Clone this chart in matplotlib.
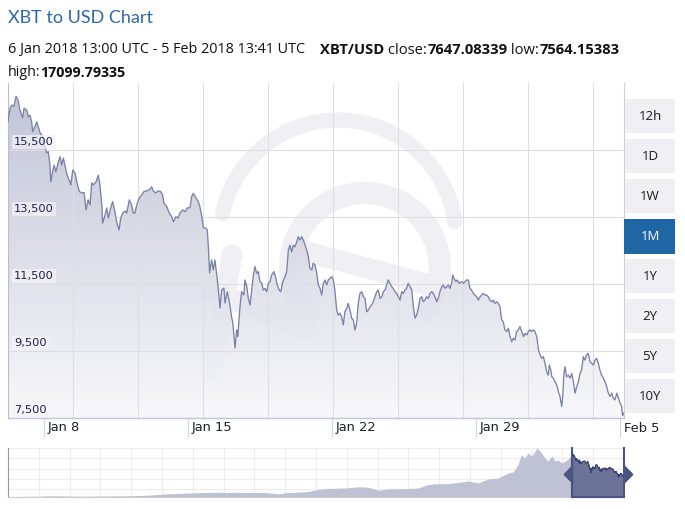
import numpy as np
import matplotlib
matplotlib.use("Agg")
import matplotlib.pyplot as plt
from matplotlib.transforms import Affine2D, ScaledTranslation, blended_transform_factory
from matplotlib.patches import Rectangle, Arc
from matplotlib.lines import Line2D
from matplotlib.path import Path

# ---------------- data ----------------
title = "XBT to USD Chart"
range_text = "6 Jan 2018 13:00 UTC - 5 Feb 2018 13:41 UTC"
pair = "XBT/USD"
close_val = "7647.08339"
low_val = "7564.15383"
high_val = "17099.79335"

# days since 6 Jan 2018 13:00 UTC
days = [
    0.00, 0.10, 0.19, 0.29, 0.39, 0.49, 0.58, 0.71, 0.78, 0.91, 0.99, 1.07, 1.15, 1.20, 1.31, 1.40,
    1.47, 1.56, 1.64, 1.72, 1.80, 1.88, 1.96, 2.04, 2.08, 2.17, 2.24, 2.33, 2.45, 2.53, 2.61, 2.69,
    2.77, 2.85, 2.93, 3.01, 3.05, 3.15, 3.26, 3.34, 3.47, 3.58, 3.70, 3.79, 3.90, 3.99, 4.07, 4.15,
    4.28, 4.39, 4.47, 4.56, 4.60, 4.72, 4.80, 4.88, 4.99, 5.09, 5.20, 5.28, 5.40, 5.48, 5.58, 5.69,
    5.77, 5.90, 6.01, 6.09, 6.17, 6.26, 6.38, 6.50, 6.61, 6.74, 6.87, 6.99, 7.06, 7.18, 7.31, 7.42,
    7.52, 7.58, 7.72, 7.84, 7.96, 8.04, 8.17, 8.28, 8.36, 8.49, 8.61, 8.72, 8.85, 8.93, 9.01, 9.14,
    9.25, 9.33, 9.42, 9.50, 9.63, 9.69, 9.75, 9.80, 9.90, 9.98, 10.06, 10.18, 10.31, 10.39, 10.50,
    10.55, 10.66, 10.76, 10.88, 10.93, 11.04, 11.12, 11.17, 11.28, 11.36, 11.47, 11.52, 11.61, 11.68,
    11.77, 11.85, 11.93, 12.01, 12.09, 12.17, 12.25, 12.34, 12.41, 12.50, 12.58, 12.66, 12.74, 12.82,
    12.93, 13.03, 13.09, 13.19, 13.26, 13.36, 13.47, 13.55, 13.63, 13.71, 13.79, 13.87, 13.95, 14.04,
    14.11, 14.20, 14.28, 14.36, 14.44, 14.52, 14.60, 14.68, 14.77, 14.84, 14.93, 15.01, 15.09, 15.17,
    15.25, 15.33, 15.41, 15.50, 15.57, 15.66, 15.74, 15.82, 15.90, 15.98, 16.06, 16.14, 16.22, 16.30,
    16.38, 16.47, 16.54, 16.63, 16.71, 16.79, 16.87, 16.95, 17.03, 17.11, 17.20, 17.28, 17.36, 17.44,
    17.52, 17.60, 17.68, 17.76, 17.84, 17.93, 18.00, 18.09, 18.17, 18.25, 18.33, 18.41, 18.49, 18.57,
    18.66, 18.73, 18.82, 18.90, 18.98, 19.06, 19.14, 19.22, 19.30, 19.38, 19.46, 19.55, 19.63, 19.71,
    19.79, 19.87, 19.95, 20.03, 20.11, 20.19, 20.27, 20.36, 20.44, 20.52, 20.60, 20.68, 20.76, 20.84,
    20.92, 21.00, 21.09, 21.16, 21.25, 21.33, 21.41, 21.49, 21.57, 21.62, 21.68, 21.78, 21.85, 21.94,
    22.06, 22.14, 22.22, 22.30, 22.38, 22.46, 22.54, 22.62, 22.70, 22.79, 22.87, 22.95, 23.03, 23.11,
    23.19, 23.27, 23.35, 23.43, 23.52, 23.60, 23.68, 23.76, 23.84, 23.92, 24.00, 24.08, 24.16, 24.25,
    24.33, 24.41, 24.49, 24.57, 24.65, 24.73, 24.81, 24.89, 24.98, 25.06, 25.14, 25.22, 25.30, 25.38,
    25.46, 25.54, 25.62, 25.71, 25.79, 25.87, 25.95, 26.03, 26.11, 26.19, 26.27, 26.32, 26.39, 26.44,
    26.51, 26.60, 26.68, 26.76, 26.84, 26.92, 26.97, 27.03, 27.08, 27.16, 27.24, 27.33, 27.41, 27.49,
    27.57, 27.65, 27.73, 27.81, 27.89, 27.97, 28.05, 28.13, 28.21, 28.30, 28.38, 28.46, 28.54, 28.62,
    28.70, 28.78, 28.86, 28.95, 29.03, 29.11, 29.19, 29.27, 29.35, 29.43, 29.51, 29.60, 29.68, 29.76,
    29.84, 29.88, 29.92,
]
price = [
    16350, 16750, 16840, 16810, 17100, 16990, 16690, 16460, 16750, 16690, 16490, 16540, 16340, 16050, 16200, 16340,
    16200, 16010, 15950, 15800, 15560, 15410, 15450, 15050, 14550, 14850, 15050, 14850, 15150, 15300, 15050, 15260,
    15050, 14810, 14660, 14550, 14460, 14900, 14810, 14550, 14260, 14220, 14230, 13710, 14010, 13860, 14520, 14460,
    14550, 14750, 14460, 13860, 13320, 13560, 13770, 13470, 13770, 13960, 13660, 13360, 13110, 13470, 13620, 13680,
    13620, 14010, 13860, 13620, 13620, 13860, 14070, 14160, 14260, 14280, 14310, 14400, 14280, 14220, 14280, 14260,
    14160, 13920, 13810, 13620, 13510, 13360, 13510, 13470, 13620, 13710, 13660, 13770, 13780, 14110, 14210, 14070,
    13960, 13810, 13510, 13170, 13170, 13110, 12520, 11830, 12220, 11920, 12220, 11620, 10780, 11320, 11380,
    10930, 11270, 10970, 10490, 10340, 9590, 10130, 9930, 10820, 11270, 11170, 11620, 11420, 11080,
    10870, 11320, 11770, 12020, 11820, 11870, 11570, 11520, 11320, 11370, 11270, 11520, 11570, 11770,
    11870, 11670, 11470, 11320, 11270, 11570, 11720, 11870, 12520, 12660, 12460, 12660, 12610, 12760,
    12910, 12810, 12910, 12810, 12660, 12520, 12320, 11970, 11920, 12120, 12070, 11820, 11470, 11370,
    11170, 11520, 11620, 11470, 11620, 11670, 11720, 11620, 11270, 10720, 10570, 10630, 10520, 10280,
    10670, 10770, 10920, 10720, 10480, 10430, 10130, 10330, 10920, 11220, 11270, 11120, 11070, 10670,
    10720, 10820, 10870, 10970, 11120, 11270, 11320, 11070, 11120, 11270, 11320, 11470, 11620, 11520,
    11420, 11370, 11270, 11220, 11120, 11020, 11270, 11220, 11320, 11370, 11520, 11420, 11320, 10820,
    10480, 10570, 10770, 11070, 11120, 10970, 11020, 11120, 11070, 11220, 11270, 11220, 11120, 10970,
    11070, 11270, 11420, 11470, 11370, 11420, 11470, 11370, 11520, 11770, 11670, 11570, 11620, 11520,
    11570, 11520, 11570, 11620, 11620, 11370, 11320, 11220, 11170, 11120, 11020, 11120, 11170, 11220,
    11170, 11170, 11120, 11020, 10970, 11020, 10920, 10970, 10920, 10820, 10430, 10370, 10130, 10080,
    10180, 9930, 9780, 9880, 9830, 10080, 10130, 10230, 10080, 9930, 10030, 9980, 10080, 10130,
    10080, 10130, 10080, 9930, 9530, 9380, 9280, 9330, 9130, 8880, 8780, 9080, 8930, 8730,
    8690, 8580, 8490, 8290, 8140, 7840, 8140, 8830, 9030, 8730, 8780, 8690, 8830, 8580,
    8240, 8430, 8580, 8830, 8930, 9330, 9230, 9380, 9430, 9180, 9130, 9080, 9230, 9280,
    9130, 8930, 8780, 8690, 8580, 8430, 8240, 8140, 8240, 8090, 8040, 8240, 8090, 7940,
    7840, 7564, 7647,
]

# navigator: longer history (days relative to 6 Jan 2018 13:00)
nav_days = [
    -325.4, -319.7, -313.9, -308.1, -302.3, -296.6, -290.8, -285.0, -279.3, -273.5, -267.7, -262.0,
    -256.2, -250.4, -244.6, -238.9, -233.1, -227.3, -221.6, -215.8, -210.0, -204.3, -198.5, -192.7,
    -186.9, -181.2, -175.4, -169.6, -163.9, -158.1, -152.3, -146.6, -140.8, -135.0, -129.2, -123.5,
    -117.7, -111.9, -106.2, -100.4, -94.6, -88.9, -83.1, -77.3, -71.5, -65.8, -60.0, -54.2, -48.5,
    -42.7, -36.9, -34.0, -31.2, -29.4, -27.1, -25.4, -23.1, -20.2, -18.5, -15.6, -13.8, -11.5, -9.8,
    -8.1, -5.8, -2.9, -0.6,
]
nav_price = [
    200, 200, 280, 320, 480, 480, 400, 320, 320, 400, 400, 480,
    480, 600, 720, 1000, 1270, 1390, 1590, 1710, 1830, 1870, 1790, 1870,
    1790, 1790, 1670, 1270, 1790, 1910, 2190, 2990, 3380, 3500, 3660, 4060,
    3900, 2710, 3180, 3260, 3380, 3580, 4980, 5290, 5370, 5770, 6370, 5570, 7160,
    7560, 9550, 9950, 12740, 16720, 15520, 17510, 16320, 19500, 18310, 15520, 14330, 16320, 14330,
    14730, 13530, 14730, 16320,
]

x_tick_days = [1.75, 8.75, 15.75, 22.75, 29.75]
x_tick_labels = ["Jan 8", "Jan 15", "Jan 22", "Jan 29", "Feb 5"]
y_ticks = [7500, 9500, 11500, 13500, 15500]
y_tick_labels = ["7,500", "9,500", "11,500", "13,500", "15,500"]
buttons = ["12h", "1D", "1W", "1M", "1Y", "2Y", "5Y", "10Y"]
active_button = "1M"

# ---------------- figure ----------------
W, H = 685, 509
fig = plt.figure(figsize=(W / 100, H / 100), dpi=100)
fig.patch.set_facecolor("white")
PX = Affine2D().scale(1, -1).translate(0, H)  # pixel coords, origin top-left


def frac(l, t, w, h):
    return [l / W, 1 - (t + h) / H, w / W, h / H]


TF = ["Lato", "DejaVu Sans"]
HF = ["Open Sans", "DejaVu Sans"]
AF = ["DejaVu Sans"]

X0, X1 = 0.0, 29.95
Y0, Y1 = 7500, 17500

ax = fig.add_axes(frac(8, 83, 616, 335))
ax.set_facecolor("white")

# faint logo watermark (behind the semi-transparent area fill)
wm = "#f0f0f4"
arc = Arc((338, 238), 236, 236, theta1=192, theta2=352, transform=PX, lw=11,
          color=wm, zorder=1.5)
arc.set_capstyle("round")
ax.add_artist(arc)
ebowl = Arc((365, 268), 150, 150, theta1=140, theta2=395, transform=PX, lw=16,
            color=wm, zorder=1.5)
ebowl.set_capstyle("round")
ax.add_artist(ebowl)
for (xa, ya), (xb, yb) in [((300, 250), (430, 285)), ((232, 255), (212, 370)),
                           ((210, 290), (305, 330))]:
    ln = Line2D([xa, xb], [ya, yb], transform=PX, lw=15, color=wm,
                solid_capstyle="round", zorder=1.5)
    ax.add_artist(ln)

# gradient area fill
grad = np.linspace(0, 1, 256)[:, None, None]
top_c = np.array([0.72, 0.735, 0.815])
bot_c = np.array([0.97, 0.97, 0.98])
img = bot_c + (top_c - bot_c) * grad
img = np.repeat(img, 2, axis=1)
im = ax.imshow(img, extent=[X0, X1, Y0, Y1], origin="lower", aspect="auto",
               zorder=2, interpolation="bilinear", alpha=0.88)
poly = ax.fill_between(days, price, Y0, facecolor="none", edgecolor="none", zorder=2)
im.set_clip_path(poly.get_paths()[0], transform=ax.transData)

# grid
for k in range(1, 10):
    ax.axvline(k * 3.16, color="#dedee3", lw=0.8, zorder=2.5)
for v in y_ticks[1:]:
    ax.axhline(v, color="#dedee3", lw=0.8, zorder=2.5)

ax.plot(days, price, color="#7a82a6", lw=0.95, zorder=3)

ax.set_xlim(X0, X1)
ax.set_ylim(Y0, Y1)
ax.spines["top"].set_visible(False)
ax.spines["left"].set_color("#b8bccb")
ax.spines["right"].set_color("#d0d0d0")
ax.spines["bottom"].set_color("#c0c4d6")
ax.spines["bottom"].set_linewidth(1.0)
ax.set_yticks([])
ax.set_xticks(x_tick_days)
ax.tick_params(axis="x", length=13.5, width=0.8, color="#d0d4e0", labelbottom=False)

# y labels inside plot
ytr = blended_transform_factory(ax.transAxes, ax.transData)
for v, lab in zip(y_ticks, y_tick_labels):
    ax.text(0.0, v, lab, transform=ytr + ScaledTranslation(6 / 100, 8 / 100, fig.dpi_scale_trans),
            ha="left", va="center", fontsize=8.2, color="#1e1f4d", family=AF, zorder=5,
            bbox=dict(boxstyle="square,pad=0.2", fc="#f4f4f8", ec="none", alpha=0.7))

# x labels
xtr = blended_transform_factory(ax.transData, ax.transAxes)
for d, lab in zip(x_tick_days, x_tick_labels):
    ax.text(d, 0.0, lab, transform=xtr + ScaledTranslation(4 / 100, -10 / 100, fig.dpi_scale_trans),
            ha="left", va="center", fontsize=9.4, color="#1e1f2d", family=AF, clip_on=False)

# ---------------- navigator ----------------
nav = fig.add_axes(frac(8, 448, 616, 49))
NX0, NX1 = -325.4, 30.0
all_d = nav_days + days
all_p = nav_price + price
for k in range(1, 20):
    nav.axvline(NX0 + k * (NX1 - NX0) / 20, color="#ececec", lw=0.8, zorder=1)
for f in np.linspace(8 / 49, 1, 5):
    nav.axhline(f * 19500, color="#ececec", lw=0.8, zorder=1)
nav.fill_between(all_d, all_p, 0, color="#bfc1d4", lw=0, zorder=2)
nav.fill_between(days, price, 0, color="#6b7399", lw=0, zorder=3)
nav.plot(days, price, color="#3b4470", lw=0.8, zorder=4)
nav.set_xlim(NX0, NX1)
nav.set_ylim(0, 19500)
nav.set_xticks([])
nav.set_yticks([])
for s in ["top", "right"]:
    nav.spines[s].set_visible(False)
nav.spines["left"].set_color("#999999")
nav.spines["bottom"].set_color("#cccccc")
ntr = blended_transform_factory(nav.transData, nav.transAxes)
sel_col = "#4b5382"
nav.plot([days[0], days[0]], [0, 1], transform=ntr, color=sel_col, lw=1.5, zorder=5, clip_on=False)
nav.plot([NX1, NX1], [0, 1], transform=ntr, color=sel_col, lw=1.5, zorder=5, clip_on=False)
nav.plot([days[0], NX1], [0, 0], transform=ntr, color=sel_col, lw=1.5, zorder=5, clip_on=False)
left_h = Path([(-1, 0), (0, 1), (0, -1), (-1, 0)])
right_h = Path([(1, 0), (0, 1), (0, -1), (1, 0)])
nav.plot([days[0]], [0.47], transform=ntr, marker=left_h, ms=12, color=sel_col, zorder=6, clip_on=False)
nav.plot([NX1], [0.47], transform=ntr, marker=right_h, ms=12, color=sel_col, zorder=6, clip_on=False)

# ---------------- buttons ----------------
for i, b in enumerate(buttons):
    t = 99 + 40 * i
    if b == active_button:
        fig.add_artist(Rectangle((624, t), 51, 35, transform=PX, fc="#1f66a5", ec="none"))
        col = "white"
    else:
        fig.add_artist(Rectangle((625, t), 50, 34, transform=PX, fc="#f0f0f4", ec="none"))
        col = "#1a1a1a"
    fig.text(650, t + 17.5, b, transform=PX, ha="center", va="center", fontsize=9.5,
             color=col, family=["Open Sans", "DejaVu Sans"])

# ---------------- header ----------------
fig.text(8, 18, title, transform=PX, ha="left", va="center", fontsize=13,
         color="#2c67a8", family=TF)
renderer = fig.canvas.get_renderer()


def runs(x, y, parts, size):
    for s, w in parts:
        t = fig.text(x, y, s, transform=PX, ha="left", va="center", fontsize=size,
                     fontweight=w, color="#111111", family=HF)
        x += t.get_window_extent(renderer).width
    return x


runs(8, 50, [(range_text, "normal")], 10.4)
runs(320, 50, [(pair, "bold"), (" close:", "normal"), (close_val, "bold"),
               (" low:", "normal"), (low_val, "bold")], 10.6)
runs(8, 73, [("high:", "normal"), (high_val, "bold")], 10.3)

fig.savefig("out.png", dpi=100, facecolor="white")
